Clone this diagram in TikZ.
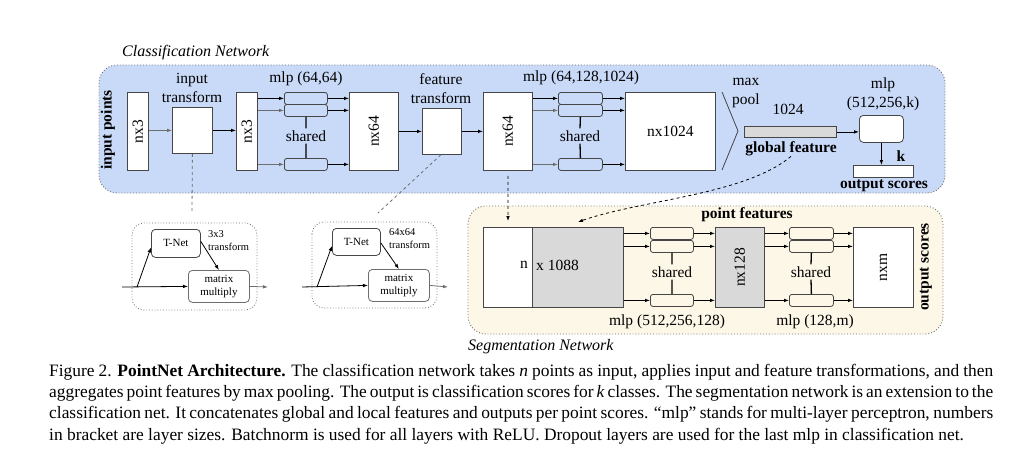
\documentclass[tikz,border=0pt]{standalone}
\usepackage{fontspec}
\setmainfont{Liberation Serif}
\usetikzlibrary{arrows.meta,calc}

\definecolor{bgblue}{RGB}{201,218,248}
\definecolor{bgbeige}{RGB}{253,247,231}
\definecolor{featgray}{RGB}{217,217,217}
\definecolor{boxdraw}{RGB}{70,70,70}
\definecolor{dotgray}{RGB}{110,110,110}
\definecolor{softarrow}{RGB}{110,110,110}

\newcommand{\lblfont}{\fontsize{15.5}{19}\selectfont}
\newcommand{\smallfont}{\fontsize{11}{13}\selectfont}

\tikzset{
  panel/.style={draw=dotgray, dotted, line width=0.9pt, rounded corners=18pt},
  box/.style={draw=boxdraw, fill=white, line width=0.8pt, inner sep=0pt, anchor=north west},
  gbox/.style={box, fill=featgray},
  mlpbox/.style={draw=boxdraw, line width=0.8pt, rounded corners=2.5pt, inner sep=0pt,
    anchor=north west, minimum width=43pt, minimum height=12pt},
  lbl/.style={font=\lblfont, inner sep=0pt},
  blbl/.style={font=\lblfont\bfseries, inner sep=0pt},
  sharedlbl/.style={font=\lblfont, inner sep=2pt},
  arr/.style={-{Latex[length=5pt,width=3.6pt]}, line width=0.8pt},
  garr/.style={arr, draw=softarrow},
  tbox/.style={draw=boxdraw, fill=white, line width=0.8pt, rounded corners=4pt, inner sep=0pt,
    anchor=north west, font=\smallfont, align=center},
  tgroup/.style={draw=dotgray, dotted, line width=0.8pt, rounded corners=12pt},
  link/.style={draw=dotgray, dashed, line width=0.8pt},
  blink/.style={draw=black, dashed, line width=0.8pt, -{Latex[length=5pt,width=3.6pt]}},
}

\begin{document}
\begin{tikzpicture}[x=1pt,y=-1pt]
\useasboundingbox (0,0) rectangle (1033,452);

% ---------- panels ----------
\path[panel, fill=bgblue] (99,65) rectangle (945,193);
\path[panel, fill=bgbeige] (468,206) rectangle (943,334);
\node[font=\fontsize{16}{18}\selectfont\itshape, anchor=base west, inner sep=0] (cnlabel) at (122,57) {Classification Network};
\node[font=\fontsize{16}{18}\selectfont\itshape, anchor=west, inner sep=0] (snlabel) at (468,347) {Segmentation Network};

% ---------- classification network ----------
\node[blbl, rotate=90] (inpts) at (108,130) {input points};

\node[box, minimum width=21pt, minimum height=78pt] (in1) at (127,92) {};
\node[lbl, rotate=90] at (in1) {nx3};

\node[box, minimum width=40pt, minimum height=46pt] (itrans) at (172,107) {};
\node[lbl, align=center, anchor=south] (itranslbl) at (192,103) {input\\transform};

\node[box, minimum width=21pt, minimum height=78pt] (in2) at (236,92) {};
\node[lbl, rotate=90] at (in2) {nx3};

% shared mlp (64,64)
\node[mlpbox] (ma1) at (284,92) {};
\node[mlpbox] (mb1) at (284,104) {};
\node[mlpbox] (mc1) at (284,158) {};
\node[lbl] (mlp1lbl) at (306,79) {mlp (64,64)};
\node[sharedlbl] (sh1) at (306,136) {shared};
\draw[line width=1.3pt] (mb1.south) -- (sh1.north);
\draw[line width=1.3pt] (sh1.south) -- (mc1.north);

\node[box, minimum width=49pt, minimum height=78pt] (f1) at (349,92) {};
\node[lbl, rotate=90] at (f1) {nx64};

\node[box, minimum width=39pt, minimum height=46pt] (ftrans) at (422,108) {};
\node[lbl, align=center, anchor=south] (ftranslbl) at (441,104) {feature\\transform};

\node[box, minimum width=49pt, minimum height=78pt] (f2) at (483,92) {};
\node[lbl, rotate=90] at (f2) {nx64};

% shared mlp (64,128,1024)
\node[mlpbox, minimum width=44pt] (ma2) at (558,92) {};
\node[mlpbox, minimum width=44pt] (mb2) at (558,104) {};
\node[mlpbox, minimum width=44pt] (mc2) at (558,158) {};
\node[lbl] (mlp2lbl) at (581,78) {mlp (64,128,1024)};
\node[sharedlbl] (sh2) at (580,136) {shared};
\draw[line width=1.3pt] (mb2.south) -- (sh2.north);
\draw[line width=1.3pt] (sh2.south) -- (mc2.north);

\node[box, minimum width=90pt, minimum height=78pt] (big) at (625,92) {};
\node[lbl] at (big) {nx1024};

% max pooling
\coordinate (mpA) at (722,92);
\coordinate (mpB) at (738,131);
\coordinate (mpC) at (722,170);
\draw[boxdraw, line width=0.8pt] (mpA) -- (mpB) -- (mpC);
\node[lbl, align=center] (mplbl) at (746,93) {max\\pool};

\node[gbox, minimum width=92pt, minimum height=11pt] (gfeat) at (744,126) {};
\node[lbl] (gdim) at (788,109) {1024};
\node[blbl] (gfeatlbl) at (791,149) {global feature};

\node[box, minimum width=44pt, minimum height=27pt, rounded corners=4pt] (cmlp) at (859,115) {};
\node[lbl, align=center] (cmlplbl) at (883,94) {mlp\\(512,256,k)};

\node[box, minimum width=60pt, minimum height=12pt] (outc) at (853,165) {};
\node[blbl] (klbl) at (901,156) {k};
\node[blbl] (outclbl) at (884,186) {output scores};

% classification connectors
\draw[garr] (in1.east |- itrans.west) -- (itrans.west);
\draw[arr] (itrans.east) -- (in2.west |- itrans.east);
\draw[arr] (in2.east |- ma1.west) -- (ma1.west);
\draw[garr] (in2.east |- mb1.west) -- (mb1.west);
\draw[garr] (in2.east |- mc1.west) -- (mc1.west);
\draw[arr] (ma1.east) -- (f1.west |- ma1.east);
\draw[arr] (mb1.east) -- (f1.west |- mb1.east);
\draw[arr] (mc1.east) -- (f1.west |- mc1.east);
\draw[arr] (f1.east |- ftrans.west) -- (ftrans.west);
\draw[arr] (ftrans.east) -- (f2.west |- ftrans.east);
\draw[arr] (f2.east |- ma2.west) -- (ma2.west);
\draw[garr] (f2.east |- mb2.west) -- (mb2.west);
\draw[garr] (f2.east |- mc2.west) -- (mc2.west);
\draw[arr] (ma2.east) -- (big.west |- ma2.east);
\draw[arr] (mb2.east) -- (big.west |- mb2.east);
\draw[arr] (mc2.east) -- (big.west |- mc2.east);
\draw[arr] (gfeat.east) -- (cmlp.west |- gfeat.east);
\draw[arr] (cmlp.south) -- (outc.north -| cmlp.south);

% ---------- transform details ----------
\path[tgroup] (132,223) rectangle (257,310);
\node[tbox, minimum width=49pt, minimum height=28pt] (tnet1) at (151,229) {T-Net};
\node[tbox, minimum width=61pt, minimum height=32pt, draw=softarrow] (mm1) at (188,270) {matrix\\multiply};
\node[font=\fontsize{10.5}{13}\selectfont, align=left, anchor=north west, inner sep=0] (t1lbl) at (208,230) {3x3\\transform};
\coordinate (a1) at (122,287);
\coordinate (b1) at (137,287);
\coordinate (c1) at (268,287);
\draw[arr] (a1) -- (mm1.west);
\draw[arr] (b1) -- ([yshift=-4pt]tnet1.west);
\draw[arr] ([yshift=2pt]tnet1.east) -- (mm1.north);
\draw[garr] (mm1.east) -- (c1);

\path[tgroup] (312,222) rectangle (437,308);
\node[tbox, minimum width=48pt, minimum height=27pt] (tnet2) at (332,228) {T-Net};
\node[tbox, minimum width=61pt, minimum height=32pt, draw=softarrow] (mm2) at (368,269) {matrix\\multiply};
\node[font=\fontsize{10.5}{13}\selectfont, align=left, anchor=north west, inner sep=0] (t2lbl) at (389,228) {64x64\\transform};
\coordinate (a2) at (302,287);
\coordinate (b2) at (317,287);
\coordinate (c2) at (448,287);
\draw[arr] (a2) -- (mm2.west);
\draw[arr] (b2) -- ([yshift=-4pt]tnet2.west);
\draw[arr] ([yshift=-1pt]tnet2.east) -- (mm2.north);
\draw[garr] (mm2.east) -- (c2);

% links from transforms to their details
\coordinate (d1) at (192,212);
\coordinate (d2) at (378,213);
\draw[link] (itrans.south) -- (d1);
\draw[link] ([xshift=-1pt]ftrans.south) -- (d2);

% ---------- segmentation network ----------
\node[blbl] (pflbl) at (747,215) {point features};

\node[box, minimum width=49pt, minimum height=80pt] (nw) at (483,227) {};
\node[gbox, minimum width=91pt, minimum height=80pt] (ng) at (532,227) {};
\node[lbl, anchor=east] at (528,265) {n};
\node[lbl, anchor=west] at (536,265) {x 1088};

\node[mlpbox] (sa1) at (650,227) {};
\node[mlpbox] (sb1) at (650,240) {};
\node[mlpbox] (sc1) at (650,294) {};
\node[sharedlbl] (ssh1) at (672,272) {shared};
\draw[line width=1.3pt] (sb1.south) -- (ssh1.north);
\draw[line width=1.3pt] (ssh1.south) -- (sc1.north);
\node[lbl] (smlp1lbl) at (667,322) {mlp (512,256,128)};

\node[gbox, minimum width=49pt, minimum height=80pt] (n128) at (715,227) {};
\node[lbl, rotate=90] at (n128) {nx128};

\node[mlpbox, minimum width=44pt] (sa2) at (789,227) {};
\node[mlpbox, minimum width=44pt] (sb2) at (789,240) {};
\node[mlpbox, minimum width=44pt] (sc2) at (789,294) {};
\node[sharedlbl] (ssh2) at (811,272) {shared};
\draw[line width=1.3pt] (sb2.south) -- (ssh2.north);
\draw[line width=1.3pt] (ssh2.south) -- (sc2.north);
\node[lbl] (smlp2lbl) at (815,322) {mlp (128,m)};

\node[box, minimum width=60pt, minimum height=80pt] (nxm) at (853,227) {};
\node[lbl, rotate=90] at (nxm) {nxm};
\node[blbl, rotate=90] (outslbl) at (926,267) {output scores};

% segmentation connectors
\draw[arr] (ng.east |- sa1.west) -- (sa1.west);
\draw[arr] (ng.east |- sb1.west) -- (sb1.west);
\draw[arr] (ng.east |- sc1.west) -- (sc1.west);
\draw[arr] (sa1.east) -- (n128.west |- sa1.east);
\draw[arr] (sb1.east) -- (n128.west |- sb1.east);
\draw[arr] (sc1.east) -- (n128.west |- sc1.east);
\draw[arr] (n128.east |- sa2.west) -- (sa2.west);
\draw[arr] (n128.east |- sb2.west) -- (sb2.west);
\draw[arr] (n128.east |- sc2.west) -- (sc2.west);
\draw[arr] (sa2.east) -- (nxm.west |- sa2.east);
\draw[arr] (sb2.east) -- (nxm.west |- sb2.east);
\draw[arr] (sc2.east) -- (nxm.west |- sc2.east);

% local and global features feeding the segmentation network
\coordinate (e1) at (508,221);
\coordinate (e2) at (578,222);
\draw[blink] ([yshift=-5pt]f2.south) -- (e1);
\draw[blink] (gfeatlbl.south) .. controls (745,195) and (640,200) .. (e2);

% ---------- caption ----------
\node[anchor=north west, inner sep=0, text width=944pt, align=justify,
      font=\fontsize{17.4}{21.2}\selectfont] (caption) at (49,364) {%
Figure 2. \textbf{PointNet Architecture.} The classification network takes \textit{n} points as input, applies input and feature transformations, and then\linebreak
aggregates point features by max pooling. The output is classification scores for \textit{k} classes. The segmentation network is an extension to the\linebreak
classification net. It concatenates global and local features and outputs per point scores. “mlp” stands for multi-layer perceptron, numbers\linebreak
in bracket are layer sizes. Batchnorm is used for all layers with ReLU. Dropout layers are used for the last mlp in classification net.};
\end{tikzpicture}
\end{document}
